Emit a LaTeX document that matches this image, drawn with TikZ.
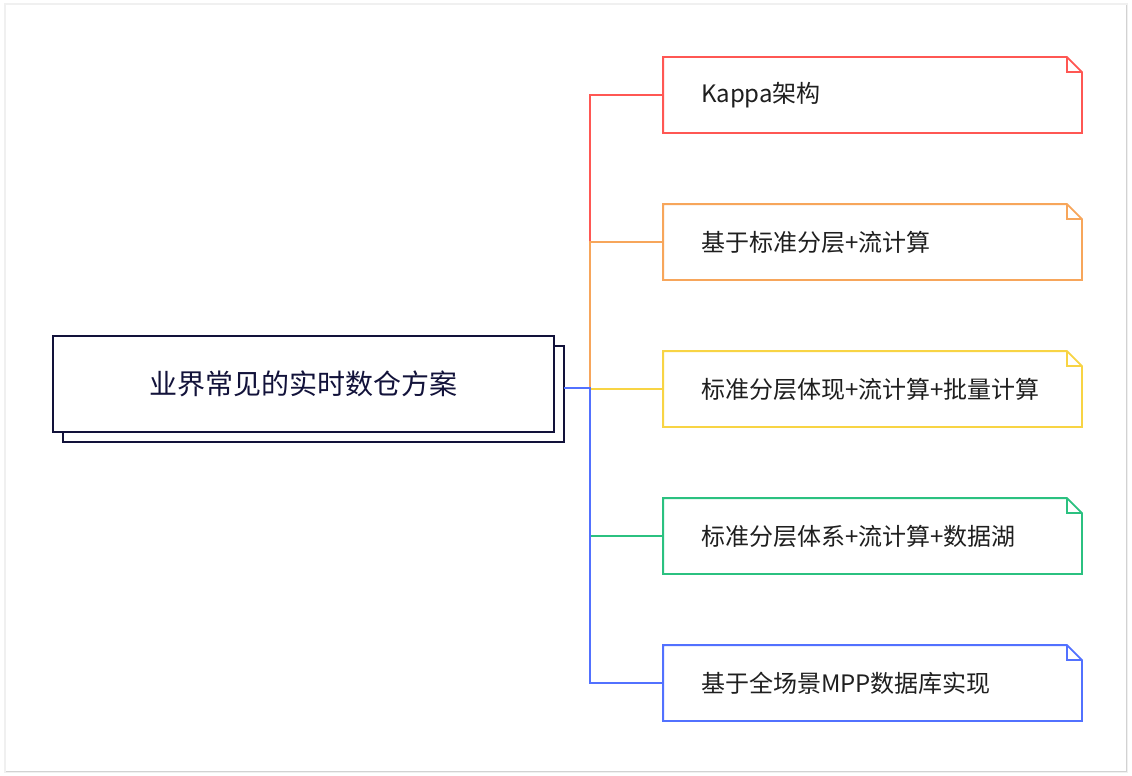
\documentclass[tikz,border=0pt]{standalone}
\usepackage{fontspec}
\setmainfont{Noto Sans CJK SC}
\usetikzlibrary{shadows}
\definecolor{navy}{HTML}{12123A}
\definecolor{cred}{HTML}{FF5753}
\definecolor{corange}{HTML}{F7A65B}
\definecolor{cyellow}{HTML}{F8D444}
\definecolor{cgreen}{HTML}{2BC180}
\definecolor{cblue}{HTML}{5271FF}
\tikzset{every picture/.style={line width=1.8pt}}
\tikzset{
  rootbox/.style={draw=navy, fill=white, text=navy, minimum width=501pt, minimum height=96pt,
    font=\fontsize{28}{33}\selectfont,
    copy shadow={shadow xshift=10pt, shadow yshift=-10pt, draw=navy, fill=white}},
  leaf/.style={text width=343pt, inner xsep=37pt, minimum height=74pt, align=left,
    text=black!88, font=\fontsize{24}{29}\selectfont},
  edge/.style={line width=1.8pt}
}
% dog-eared outline round a leaf node
\newcommand{\dogear}[2]{%
  \draw[#2] (#1.north west) -- ([xshift=-15pt]#1.north east) -- ([yshift=-15pt]#1.north east)
    -- (#1.south east) -- (#1.south west) -- cycle;
  \draw[#2] ([xshift=-15pt]#1.north east) |- ([yshift=-15pt]#1.north east);}

\begin{document}
\begin{tikzpicture}[x=1pt, y=-1pt]
    \useasboundingbox (0,0) rectangle (1132,776);
    % Card
    \draw[gray!12, line width=4pt] (6,5) rectangle (1126,771);
    \draw[gray!35, line width=0.8pt] (6,5) rectangle (1126,771);
    \fill[white] (6,5) rectangle (1126,771);
    % Root
    \node[rootbox] (root) at (303.5,384) {业界常见的实时数仓方案};
    \coordinate (trunk) at (564,388);
    \coordinate (hub) at (590,388);
    % Leaves
    \node[leaf] (kappa) at (872.5,95) {Kappa架构};
    \node[leaf] (layer) at (872.5,242) {基于标准分层+流计算};
    \node[leaf] (batch) at (872.5,389) {标准分层体现+流计算+批量计算};
    \node[leaf] (lake) at (872.5,536) {标准分层体系+流计算+数据湖};
    \node[leaf] (mpp) at (872.5,683) {基于全场景MPP数据库实现};
    \dogear{kappa}{cred}
    \dogear{layer}{corange}
    \dogear{batch}{cyellow}
    \dogear{lake}{cgreen}
    \dogear{mpp}{cblue}
    % Edges
    \draw[edge, cred] (trunk) -- (hub) |- (kappa.west);
    \draw[edge, corange] (trunk) -- (hub) |- (layer.west);
    \draw[edge, cyellow] (trunk) -- (hub) |- (batch.west);
    \draw[edge, cgreen] (trunk) -- (hub) |- (lake.west);
    \draw[edge, cblue] (trunk) -- (hub) |- (mpp.west);
\end{tikzpicture}
\end{document}
